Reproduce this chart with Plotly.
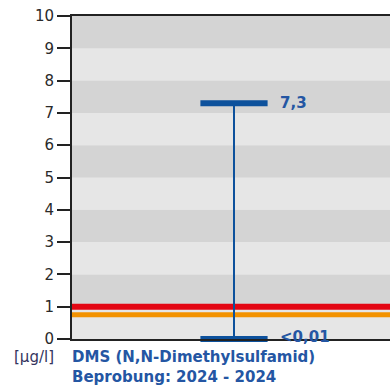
import plotly.graph_objects as go

# data
category = ["DMS (N,N-Dimethylsulfamid)"]
max_value = [7.3]
min_value = [0.0]
max_label = ["7,3"]
min_label = ["<0,01"]
threshold_red = 1.0
threshold_orange = 0.75
y_ticks = list(range(0, 11))
unit_label = "[µg/l]"
title_line1 = "DMS (N,N-Dimethylsulfamid)"
title_line2 = "Beprobung: 2024 - 2024"

BLUE = "#0d519c"
TEXT_BLUE = "#2456a3"
FONT = "DejaVu Sans, sans-serif"

fig = go.Figure()

# alternating background bands
shapes = []
for i in range(10):
    color = "#d4d4d4" if (i % 2 == 1) else "#e6e6e6"
    shapes.append(dict(type="rect", xref="paper", yref="y", x0=0, x1=1,
                       y0=i, y1=i + 1, fillcolor=color, line=dict(width=0),
                       layer="below"))
# threshold lines
shapes.append(dict(type="line", xref="paper", yref="y", x0=0, x1=1,
                   y0=threshold_red, y1=threshold_red,
                   line=dict(color="#e30613", width=6), layer="below"))
shapes.append(dict(type="line", xref="paper", yref="y", x0=0, x1=1,
                   y0=threshold_orange, y1=threshold_orange,
                   line=dict(color="#f39200", width=5), layer="below"))

# vertical range line
fig.add_trace(go.Scatter(x=[category[0], category[0]], y=[min_value[0], max_value[0]],
                         mode="lines", line=dict(color=BLUE, width=2),
                         hoverinfo="skip", showlegend=False, cliponaxis=False))
# caps
fig.add_trace(go.Scatter(x=category * 2, y=[max_value[0], min_value[0]],
                         mode="markers",
                         marker=dict(symbol="line-ew", size=48,
                                     line=dict(color=BLUE, width=6)),
                         hoverinfo="skip", showlegend=False, cliponaxis=False))

annotations = [
    dict(x=category[0], y=max_value[0], xref="x", yref="y", text="<b>" + max_label[0] + "</b>",
         showarrow=False, xanchor="left", yanchor="middle", xshift=44,
         font=dict(family=FONT, size=15, color=TEXT_BLUE)),
    dict(x=category[0], y=min_value[0], xref="x", yref="y", text="<b>" + min_label[0] + "</b>",
         showarrow=False, xanchor="left", yanchor="middle", xshift=44, yshift=2,
         font=dict(family=FONT, size=15, color=TEXT_BLUE)),
    dict(x=0, y=0, xref="paper", yref="paper", text=unit_label,
         showarrow=False, xanchor="right", yanchor="middle", xshift=-16, yshift=-18,
         font=dict(family=FONT, size=15, color="#34345e")),
    dict(x=0, y=0, xref="paper", yref="paper", text="<b>" + title_line1 + "</b>",
         showarrow=False, xanchor="left", yanchor="middle", xshift=-2, yshift=-18,
         font=dict(family=FONT, size=15, color=TEXT_BLUE)),
    dict(x=0, y=0, xref="paper", yref="paper", text="<b>" + title_line2 + "</b>",
         showarrow=False, xanchor="left", yanchor="middle", xshift=-2, yshift=-38,
         font=dict(family=FONT, size=15, color=TEXT_BLUE)),
]

fig.update_layout(
    width=390, height=388,
    margin=dict(l=72, r=0, t=16, b=49),
    paper_bgcolor="white", plot_bgcolor="#e6e6e6",
    shapes=shapes, annotations=annotations,
    showlegend=False,
    xaxis=dict(type="category", range=[-0.5, 0.4815], showticklabels=False,
               ticks="", showgrid=False, zeroline=False,
               showline=True, linecolor="#222222", linewidth=2, mirror=True),
    yaxis=dict(range=[0, 10], tickvals=y_ticks, ticks="outside", ticklen=13,
               tickwidth=2, tickcolor="#222222", showgrid=False, zeroline=False,
               showline=True, linecolor="#222222", linewidth=2,
               tickfont=dict(family=FONT, size=15, color="#2a2a2a")),
)

fig.write_html("out.html", config={"displayModeBar": False},
               post_script="document.body.style.margin='0px';")
